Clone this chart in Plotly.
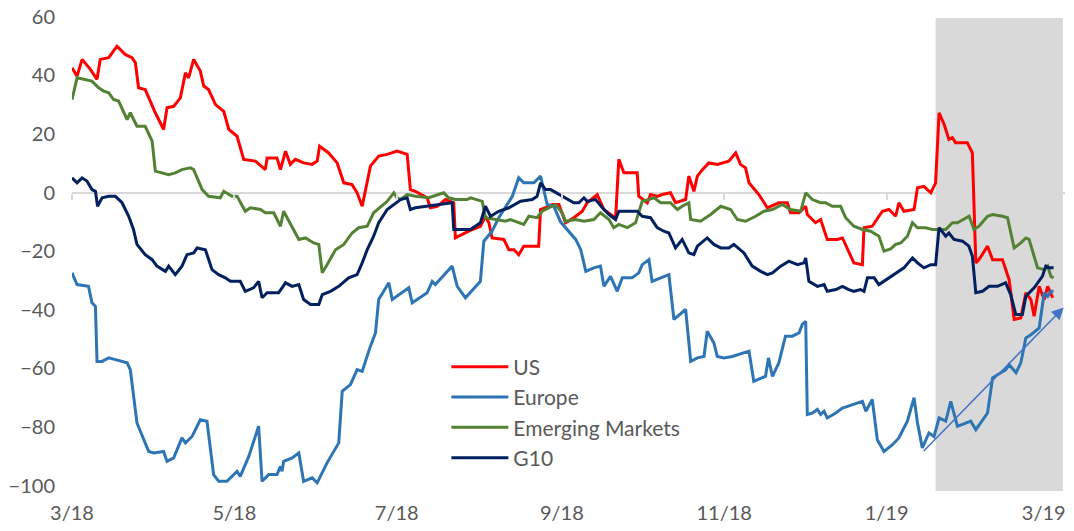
import pandas as pd
import plotly.graph_objects as go

START = "2018-03-01"

# (days since START, value)
us = [(0, 42.5), (1.9, 39.7), (3.8, 45.4), (6.9, 42), (9.4, 38.6), (10.6, 45.4), (13.8, 46), (16.9, 49.9),
      (20.0, 47.1), (22.5, 46), (23.8, 44.3), (25.0, 35.7), (27.5, 35.1), (31.3, 27.2), (34.4, 21.5),
      (35.7, 28.9), (38.2, 29.4), (40.7, 32.3), (42.6, 40.8), (43.8, 39.1), (45.7, 45.4), (48.2, 41.4),
      (49.5, 36.3), (51.3, 35.1), (53.9, 30), (57.0, 27.7), (58.9, 21.5), (62.0, 19.2), (64.5, 11.3),
      (68.9, 10.7), (72.6, 7.8), (73.3, 11.8), (77.0, 11.8), (78.3, 7.8), (80.2, 14.1), (82.0, 9.6),
      (83.9, 11.3), (87.0, 10.1), (90.2, 9.6), (92.1, 10.7), (93.0, 15.8), (96.4, 13.5), (99.6, 10.1),
      (102.1, 3.3), (105.2, 2.7), (107.1, -0.1), (109.0, -4.7), (112.1, 9), (115.2, 12.4), (118.4, 13),
      (122.1, 14.1), (125.9, 13), (127.1, 1), (129.0, 0.4), (133.4, -1.8), (134.6, -5.2), (137.2, -4.7),
      (140.3, -2.4), (143.4, -3.5), (144.0, -15.5), (146.6, -14.3), (149.0, -13.2), (153.4, -11.5),
      (155.3, -8.1), (156.6, -10.3), (157.8, -15.5), (162.2, -16), (164.1, -19.5), (166.0, -19.5),
      (167.8, -21.2), (169.7, -18.3), (175.3, -18.3), (176.0, -5.8), (177.9, -5.2), (180.4, -4.1),
      (182.9, -4.1), (185.4, -10.3), (188.5, -8.6), (191.7, -6.4), (193.5, -3.5), (197.3, -0.7),
      (199.8, -5.8), (202.3, -7.5), (204.2, -8.6), (205.4, 11.3), (207.3, 6.7), (212.3, 6.7),
      (212.9, -1.3), (216.1, -3.5), (217.3, -0.7), (219.8, -1.3), (221.7, -0.7), (224.8, -0.1),
      (226.7, -3.5), (230.5, -2.4), (231.7, 5.6), (233.6, 0.4), (234.9, 5.6), (236.8, 7.8), (239.2, 10.1),
      (242.4, 9.6), (246.7, 10.7), (249.3, 13.5), (251.1, 9.6), (253.0, 8.4), (254.3, 3.3), (258.0, -0.7),
      (261.2, -5.2), (265.5, -3.5), (268.7, -3.5), (269.9, -6.9), (273.1, -6.9), (275.6, -4.7),
      (276.2, -7.5), (279.3, -10.3), (281.2, -9.2), (283.7, -16), (287.5, -16), (289.4, -15.5),
      (293.7, -24), (296.9, -24.6), (297.5, -12), (300.6, -11.5), (304.4, -6.4), (306.9, -5.8),
      (309.4, -8.1), (310.6, -3.5), (312.5, -6.4), (316.3, -5.8), (317.6, 1.6), (320.0, 2.1),
      (322.6, -0.1), (324.4, 3.3), (325.7, 27.2), (327.6, 23.2), (329.4, 18.1), (330.7, 18.7),
      (331.9, 17), (336.3, 17), (338.2, 13.5), (339.5, -24), (340.7, -22.9), (343.9, -18.3),
      (345.8, -22.9), (349.5, -22.9), (352.0, -29.7), (353.9, -43.3), (356.4, -42.8), (358.3, -34.2),
      (360.2, -36.5), (361.4, -42.2), (363.3, -32), (365.2, -36.5), (366.5, -32), (368.4, -35.9)]

europe = [(0, -27.4), (1.9, -31.4), (6.2, -32), (7.5, -37.6), (8.8, -38.8), (9.4, -57.6), (11.3, -57.6),
          (13.8, -56.4), (16.3, -57), (20.7, -58.1), (21.9, -60.4), (24.4, -78.6), (28.8, -88.3),
          (30.7, -88.8), (34.4, -88.3), (35.7, -91.7), (38.2, -90.5), (41.3, -83.7), (42.6, -85.4),
          (45.1, -83.2), (48.2, -77.5), (50.7, -78), (53.2, -96.2), (55.1, -98.5), (58.2, -98.5),
          (62.0, -95.1), (63.2, -96.8), (66.4, -90), (70.1, -79.7), (71.4, -98.5), (73.9, -96.2),
          (77.0, -96.2), (78.3, -93.4), (78.9, -95.1), (79.5, -91.7), (82.7, -90.5), (85.2, -88.8),
          (87.0, -98.5), (90.2, -97.3), (92.1, -99), (95.8, -92.2), (100.2, -85.4), (101.5, -67.8),
          (104.6, -65.5), (107.1, -60.4), (109.0, -61), (112.1, -52.4), (114.0, -47.9), (115.2, -36.5),
          (119.0, -30.8), (120.3, -36.5), (126.5, -32.5), (127.8, -37.6), (133.4, -34.2), (135.3, -30.3),
          (136.5, -31.4), (142.8, -25.1), (144.7, -32), (147.8, -35.9), (153.4, -30.3), (154.7, -16.6),
          (157.8, -13.2), (160.3, -8.6), (165.4, -1.3), (167.8, 5), (169.7, 3.3), (173.5, 3.3),
          (176.0, 5.6), (178.5, -4.1), (181.0, -4.7), (183.5, -10), (189.2, -16), (191.1, -19.5),
          (193.0, -26.9), (196.0, -25.7), (198.5, -25.1), (199.8, -32), (202.3, -28.6), (204.8, -33.7),
          (206.7, -29.1), (210.4, -29.1), (212.9, -27.4), (214.2, -24.6), (216.7, -22.9), (217.9, -30.3),
          (221.1, -29.1), (224.2, -28), (226.1, -43.3), (230.5, -39.9), (232.4, -57.6), (234.9, -56.4),
          (237.4, -55.9), (238.6, -47.3), (241.1, -51.3), (242.4, -55.9), (244.9, -56.4), (248.0, -55.9),
          (254.3, -54.1), (256.1, -64.4), (260.5, -62.7), (261.6, -56.4), (263.1, -62.7), (265.5, -58.1),
          (268.0, -49), (270.6, -49), (273.1, -47.9), (274.3, -45), (275.6, -43.9), (276.2, -75.7),
          (278.1, -75.2), (280.0, -74), (281.2, -75.7), (282.5, -74.6), (283.7, -76.9), (286.9, -75.2),
          (289.4, -73.5), (293.1, -72.3), (296.9, -71.2), (298.2, -74.6), (300.6, -70.6), (302.5, -84.3),
          (305.0, -88.3), (308.2, -86), (310.6, -83.7), (313.8, -78), (316.3, -70), (317.6, -78.6),
          (319.4, -87.1), (321.9, -82), (323.8, -83.2), (325.7, -76.9), (328.2, -78), (330.1, -71.2),
          (332.6, -79.7), (334.5, -79.1), (337.6, -78), (339.5, -80.9), (343.9, -75.2), (345.8, -63.2),
          (348.9, -61.5), (350.8, -60.4), (352.0, -58.7), (354.6, -61.5), (356.4, -58.1), (358.3, -49.6),
          (360.2, -48.5), (363.3, -46.2), (365.2, -34.2), (366.5, -35.4), (367.7, -33.7), (368.7, -33.7)]

emerging = [(0, 31.7), (1.9, 39.1), (4.4, 38.6), (7.5, 38), (10.0, 35.7), (11.9, 34.6), (13.8, 34),
            (15.6, 31.7), (17.5, 31.2), (19.4, 27.7), (20.7, 24.9), (21.9, 27.2), (24.4, 22.6),
            (27.5, 22.6), (30.1, 17.5), (31.3, 7.3), (34.4, 6.7), (36.3, 6.1), (38.8, 6.7), (41.3, 7.8),
            (44.5, 8.4), (45.7, 7.8), (48.9, 1), (51.3, -1.3), (55.7, -1.8), (57.0, 0.4), (60.1, -1.3),
            (62.0, -1.3), (65.1, -6.4), (67.0, -5.2), (70.8, -5.8), (72.6, -6.9), (75.8, -6.9),
            (78.3, -11.5), (79.5, -6.4), (82.7, -11.5), (85.2, -16), (87.7, -15.5), (90.8, -17.2),
            (92.7, -17.7), (94.0, -27.4), (95.8, -24.6), (99.0, -19.5), (102.1, -17.7), (105.2, -13.8),
            (107.7, -12), (110.9, -11.5), (113.3, -6.9), (118.4, -3), (120.9, -0.1), (122.1, -1.8),
            (123.4, -2.4), (125.9, -0.7), (129.0, -1.3), (134.0, -1.8), (139.6, -0.1), (141.5, -1.8),
            (144.0, -2.4), (148.4, -2.4), (149.7, -1.8), (154.1, -3), (155.3, -8.6), (159.1, -9.2),
            (162.8, -9.8), (164.7, -9.2), (169.7, -10.9), (171.6, -8.1), (174.7, -8.6), (176.6, -6.4),
            (181.6, -4.1), (184.1, -6.9), (185.4, -9.8), (189.2, -9.2), (192.3, -9.8), (196.0, -9.2),
            (198.5, -6.9), (201.7, -9.2), (203.5, -12), (205.4, -10.9), (208.6, -12), (211.7, -10.3),
            (214.2, -3), (216.7, -2.4), (218.6, -1.8), (221.1, -3.5), (224.8, -3.5), (227.4, -5.8),
            (229.2, -4.7), (231.7, -3.5), (232.4, -9.2), (236.1, -9.8), (239.9, -7.5), (243.7, -4.7),
            (247.4, -5.8), (249.9, -9.2), (253.0, -9.8), (256.8, -8.1), (259.9, -6.4), (263.1, -5.8),
            (266.8, -4.1), (269.9, -5.8), (273.7, -6.4), (275.6, -0.1), (278.1, -2.4), (281.2, -3.5),
            (283.1, -3.5), (285.6, -4.7), (288.7, -4.7), (290.6, -8.6), (293.7, -11.5), (296.9, -12.6),
            (300.0, -13.2), (303.1, -14.9), (305.0, -20), (307.5, -19.2), (309.4, -17.7), (311.3, -17.2),
            (313.8, -14.9), (315.7, -10.3), (317.6, -12), (320.7, -12), (323.2, -12.6), (328.2, -12.6),
            (330.7, -10.3), (332.6, -10.3), (337.0, -8.1), (338.8, -12.6), (340.7, -11.5), (343.9, -8.1),
            (345.8, -7.5), (349.5, -8.1), (351.4, -8.6), (353.9, -18.9), (356.4, -17.2), (358.3, -15.5),
            (359.5, -16), (362.7, -25.7), (365.2, -26.3), (366.5, -25.1), (367.7, -28.6), (368.7, -29.1)]

g10 = [(0, 5), (1.9, 3.3), (3.8, 5), (5.6, 3.9), (7.5, 1), (8.8, 0.4), (9.6, -4.7), (11.3, -1.8),
       (13.8, -1.3), (16.3, -1.3), (18.8, -3.5), (21.3, -8.1), (23.1, -12.6), (24.4, -17.7), (27.5, -21.2),
       (30.1, -22.9), (31.9, -25.1), (35.1, -26.9), (36.3, -25.1), (38.8, -28), (41.3, -25.1),
       (43.2, -21.2), (45.7, -20.6), (47.0, -18.9), (50.1, -19.5), (52.6, -26.3), (55.1, -28),
       (57.6, -29.1), (59.5, -30.3), (63.2, -30.3), (65.1, -33.7), (68.2, -32.5), (70.1, -30.3),
       (71.4, -35.9), (73.3, -34.2), (77.6, -34.2), (78.9, -32.5), (80.2, -30.8), (82.7, -32),
       (85.2, -31.4), (87.0, -36.5), (89.6, -38.2), (92.7, -38.2), (94.0, -34.8), (97.1, -33.7),
       (100.2, -32), (103.9, -29.1), (107.1, -28), (109.0, -24), (110.9, -19.5), (113.3, -14.9),
       (115.2, -10.3), (118.4, -5.8), (120.9, -4.1), (123.4, -2.4), (125.9, -1.8), (127.1, -5.8),
       (129.0, -5.2), (132.8, -4.7), (139.0, -4.1), (142.8, -3.5), (143.4, -12.6), (149.7, -12.6),
       (153.4, -10.3), (155.3, -4.7), (157.2, -8.1), (160.3, -6.4), (164.1, -5.2), (168.5, -3),
       (172.9, -2.4), (174.7, -1.3), (176.0, 3.3), (177.9, 1), (179.8, 1), (182.9, -0.7), (185.4, -1.8),
       (188.5, -3.5), (190.4, -3.5), (192.3, -1.8), (193.5, -3), (196.7, -2.4), (199.2, -5.2),
       (201.7, -7.5), (204.2, -9.2), (205.4, -6.4), (212.3, -6.4), (214.2, -8.1), (217.3, -8.6),
       (219.8, -12), (222.3, -13.2), (224.2, -13.8), (226.7, -18.9), (229.2, -16), (231.7, -20.6),
       (233.6, -21.2), (234.9, -18.3), (238.6, -15.5), (241.1, -17.7), (243.7, -18.9), (246.7, -18.9),
       (248.6, -17.7), (252.4, -20.6), (255.5, -25.1), (258.7, -26.9), (261.2, -28), (263.1, -27.4),
       (266.2, -25.1), (269.3, -23.4), (272.5, -24.6), (275.0, -24), (275.6, -22.3), (276.8, -30.3),
       (280.0, -32), (282.5, -31.4), (283.7, -33.7), (286.9, -33.1), (289.4, -32), (291.8, -33.1),
       (293.7, -33.7), (296.2, -33.1), (297.5, -33.7), (298.8, -29.1), (301.3, -29.1), (303.1, -31.4),
       (306.9, -29.1), (310.0, -27.4), (312.5, -25.7), (315.7, -22.3), (317.6, -24), (320.0, -25.7),
       (322.6, -24.6), (324.4, -24.6), (325.7, -12), (328.2, -14.9), (329.4, -13.8), (331.3, -16),
       (334.5, -16.6), (336.9, -18.3), (338.2, -21.7), (339.5, -34.2), (342.0, -33.7), (344.5, -32),
       (347.6, -32), (350.7, -30.8), (352.6, -34.8), (354.5, -41.6), (357.0, -41.6), (358.3, -35.4),
       (361.4, -32.5), (364.5, -28.6), (365.8, -25.1), (367.0, -25.7), (368.7, -25.7)]

series_names = ["US", "Europe", "Emerging Markets", "G10"]
series_colors = ["#FF0000", "#2E75B6", "#548235", "#002060"]

tick_dates = ["2018-03-01", "2018-05-01", "2018-07-01", "2018-09-01", "2018-11-01", "2019-01-01", "2019-03-01"]
tick_labels = ["3/18", "5/18", "7/18", "9/18", "11/18", "1/19", "3/19"]
y_ticks = [-100, -80, -60, -40, -20, 0, 20, 40, 60]

shade_days = (324.4, 372.2)          # shaded window
arrow_from = (319.4, -88.7)           # trend arrow start (day, value)
arrow_to = (372.5, -39.2)             # trend arrow end
x_days_range = (0, 373)
y_range = (-101.8, 60.2)

start = pd.Timestamp(START)


def to_date(d):
    return start + pd.to_timedelta(d, unit="D")


fig = go.Figure()
for name, color, data in zip(series_names, series_colors, [us, europe, emerging, g10]):
    days = [p[0] for p in data]
    vals = [p[1] for p in data]
    fig.add_trace(go.Scatter(
        x=[to_date(d) for d in days], y=vals, mode="lines", name=name,
        line=dict(color=color, width=3), hoverinfo="skip"))

# dummy trace to carry the axis used for tick marks on the zero line
fig.add_trace(go.Scatter(x=[to_date(0)], y=[None], xaxis="x2", showlegend=False, hoverinfo="skip"))

fig.add_shape(type="rect", xref="x", yref="y",
              x0=to_date(shade_days[0]), x1=to_date(shade_days[1]),
              y0=y_range[0], y1=59.5, fillcolor="#D9D9D9", line=dict(width=0), layer="between")

fig.add_annotation(x=to_date(arrow_to[0]), y=arrow_to[1], ax=to_date(arrow_from[0]), ay=arrow_from[1],
                   xref="x", yref="y", axref="x", ayref="y", text="", showarrow=True,
                   arrowhead=2, arrowsize=1.6, arrowwidth=1.5, arrowcolor="#4472C4")

font_family = "Lato, Carlito, 'Liberation Sans', sans-serif"
zero_pos = (0 - y_range[0]) / (y_range[1] - y_range[0])

fig.update_layout(
    width=1074, height=531,
    margin=dict(l=72, r=9, t=16, b=40, autoexpand=False),
    paper_bgcolor="white", plot_bgcolor="white",
    font=dict(family=font_family, color="#595959", size=20),
    showlegend=True,
    legend=dict(x=0.377, y=0.304, xanchor="left", yanchor="top", bgcolor="rgba(0,0,0,0)",
                font=dict(size=21, color="#595959"), itemwidth=57, tracegroupgap=0),
    xaxis=dict(type="date", range=[to_date(x_days_range[0]), to_date(x_days_range[1])],
               tickvals=tick_dates, ticktext=tick_labels, showgrid=False, zeroline=False,
               showline=False, ticks="", automargin=False, ticklabelstandoff=8,
               tickfont=dict(size=20, color="#595959")),
    xaxis2=dict(type="date", overlaying="x", matches="x", anchor="free", position=zero_pos,
                tickvals=tick_dates, showticklabels=False, ticks="outside", ticklen=6,
                tickcolor="#D9D9D9", tickwidth=1.5, showgrid=False, zeroline=False, showline=False,
                automargin=False),
    yaxis=dict(range=list(y_range), tickvals=y_ticks, showgrid=False, zeroline=True,
               zerolinecolor="#D9D9D9", zerolinewidth=2, showline=False, ticks="", automargin=False,
               ticklabelstandoff=16, tickfont=dict(size=20, color="#595959")),
)

fig.write_html("out.html", config={"displayModeBar": False},
               post_script="document.body.style.margin='0';document.body.style.overflow='hidden';")
